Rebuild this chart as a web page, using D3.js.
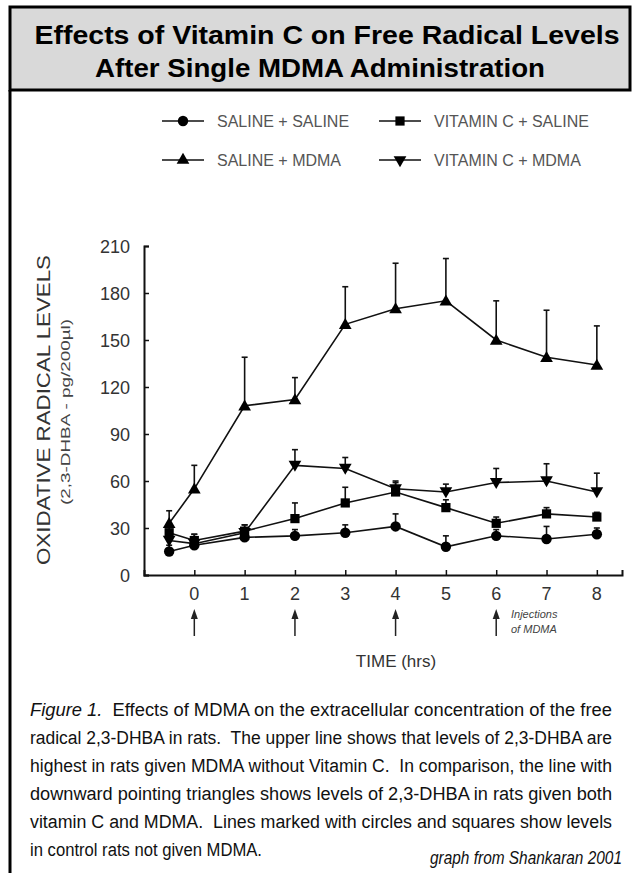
<!DOCTYPE html>
<html>
<head>
<meta charset="utf-8">
<script src="https://cdn.jsdelivr.net/npm/d3@7"></script>
<style>
  body { margin: 0; background: #fff; }
  svg { display: block; font-family: "Liberation Sans", Arial, sans-serif; }
</style>
</head>
<body>
<svg id="chart" width="632" height="873"></svg>
<script>
// time points (hrs); first point is the pre-injection baseline
const times = [-0.5, 0, 1, 2, 3, 4, 5, 6, 7, 8];
const xTicks = [0, 1, 2, 3, 4, 5, 6, 7, 8];
const yTicks = [0, 30, 60, 90, 120, 150, 180, 210];
const injections = [0, 2, 4, 6];

// 2,3-DHBA (pg/200ul), mean and upper error (SEM)
const salineSaline = [15, 19, 24, 25, 27, 31, 18, 25, 23, 26];
const salineSalineErr = [4, 5, 4, 4, 5, 8, 7, 4, 8, 4];
const vitCSaline = [27, 22, 28, 36, 46, 53, 43, 33, 39, 37];
const vitCSalineErr = [5, 4, 4, 10, 10, 6, 5, 4, 4, 3];
const salineMDMA = [33, 55, 108, 112, 160, 170, 175, 150, 139, 134];
const salineMDMAErr = [8, 15, 31, 14, 24, 29, 27, 25, 30, 25];
const vitCMDMA = [22, 20, 27, 70, 68, 55, 53, 59, 60, 53];
const vitCMDMAErr = [5, 6, 5, 10, 7, 5, 5, 9, 11, 12];

const seriesNames = ["SALINE + SALINE", "VITAMIN C + SALINE", "SALINE + MDMA", "VITAMIN C + MDMA"];

const captionLines = [
  ["Figure 1.", "  Effects of MDMA on the extracellular concentration of the free"],
  [null, "radical 2,3-DHBA in rats.  The upper line shows that levels of 2,3-DHBA are"],
  [null, "highest in rats given MDMA without Vitamin C.  In comparison, the line with"],
  [null, "downward pointing triangles shows levels of 2,3-DHBA in rats given both"],
  [null, "vitamin C and MDMA.  Lines marked with circles and squares show levels"],
  [null, "in control rats not given MDMA."]
];
const captionWidths = [582, 582, 582, 582, 582, 232];

const series = [
  { name: seriesNames[0], values: salineSaline, err: salineSaline.map((v, i) => v + salineSalineErr[i]), symbol: d3.symbolCircle, size: 85, rot: 0 },
  { name: seriesNames[1], values: vitCSaline, err: vitCSaline.map((v, i) => v + vitCSalineErr[i]), symbol: d3.symbolSquare, size: 85, rot: 0 },
  { name: seriesNames[2], values: salineMDMA, err: salineMDMA.map((v, i) => v + salineMDMAErr[i]), symbol: d3.symbolTriangle, size: 70, rot: 0 },
  { name: seriesNames[3], values: vitCMDMA, err: vitCMDMA.map((v, i) => v + vitCMDMAErr[i]), symbol: d3.symbolTriangle, size: 70, rot: 180 }
];

const svg = d3.select("#chart");

// header box
svg.append("rect")
  .attr("x", 10).attr("y", 7).attr("width", 620).attr("height", 83)
  .attr("fill", "#d9d9d9").attr("stroke", "#000").attr("stroke-width", 3);
svg.append("line")
  .attr("x1", 10).attr("x2", 10).attr("y1", 90).attr("y2", 873)
  .attr("stroke", "#000").attr("stroke-width", 3);

const title = svg.append("text")
  .attr("text-anchor", "middle")
  .attr("font-weight", "bold")
  .attr("font-size", 26)
  .attr("fill", "#000");
title.append("tspan").attr("x", 327).attr("y", 44)
  .attr("textLength", 585).attr("lengthAdjust", "spacingAndGlyphs")
  .text("Effects of Vitamin C on Free Radical Levels");
title.append("tspan").attr("x", 320).attr("y", 77)
  .attr("textLength", 450).attr("lengthAdjust", "spacingAndGlyphs")
  .text("After Single MDMA Administration");

// scales
const x = d3.scaleLinear().domain([-1, 8.5]).range([144, 622]);
const y = d3.scaleLinear().domain([0, 210]).range([575, 246]);

const g = svg.append("g");

// axes
const yAxis = g.append("g")
  .attr("transform", `translate(${x(-1)},0)`)
  .call(d3.axisRight(y).tickValues(yTicks).tickSize(5).tickFormat(""));
const xAxis = g.append("g")
  .attr("transform", `translate(0,${y(0)})`)
  .call(d3.axisTop(x).tickValues(xTicks).tickSize(5).tickFormat(""));
[yAxis, xAxis].forEach(a => {
  a.select(".domain").attr("stroke", "#111").attr("stroke-width", 2);
  a.selectAll(".tick line").attr("stroke", "#111").attr("stroke-width", 1.5);
});

g.selectAll(".ylab")
  .data(yTicks)
  .join("text")
  .attr("class", "ylab")
  .attr("x", 130)
  .attr("y", d => y(d) + 7)
  .attr("text-anchor", "end")
  .attr("font-size", 18)
  .attr("fill", "#333")
  .text(d => d);

g.selectAll(".xlab")
  .data(xTicks)
  .join("text")
  .attr("class", "xlab")
  .attr("x", d => x(d))
  .attr("y", 600)
  .attr("text-anchor", "middle")
  .attr("font-size", 18)
  .attr("fill", "#333")
  .text(d => d);

// axis titles
g.append("text")
  .attr("transform", "translate(50,410) rotate(-90)")
  .attr("text-anchor", "middle")
  .attr("font-size", 18)
  .attr("fill", "#333")
  .attr("textLength", 310)
  .attr("lengthAdjust", "spacingAndGlyphs")
  .text("OXIDATIVE RADICAL LEVELS");
g.append("text")
  .attr("transform", "translate(70,412) rotate(-90)")
  .attr("text-anchor", "middle")
  .attr("font-size", 13)
  .attr("fill", "#444")
  .attr("textLength", 186)
  .attr("lengthAdjust", "spacingAndGlyphs")
  .text("(2,3-DHBA - pg/200\u00b5l)");

g.append("text")
  .attr("x", 396).attr("y", 667)
  .attr("text-anchor", "middle")
  .attr("font-size", 17)
  .attr("fill", "#333")
  .text("TIME (hrs)");

// injection arrows
const arrows = g.selectAll(".arrow").data(injections).join("g").attr("class", "arrow");
arrows.append("line")
  .attr("x1", d => x(d)).attr("x2", d => x(d))
  .attr("y1", 617).attr("y2", 636)
  .attr("stroke", "#222").attr("stroke-width", 1.5);
arrows.append("path")
  .attr("d", d => `M${x(d)},609 L${x(d) - 3.5},619 L${x(d) + 3.5},619 Z`)
  .attr("fill", "#222");

const inj = g.append("text")
  .attr("font-size", 11)
  .attr("font-style", "italic")
  .attr("fill", "#444");
inj.append("tspan").attr("x", 511).attr("y", 618).text("Injections");
inj.append("tspan").attr("x", 511).attr("y", 633).text("of MDMA");

// error bars (upper only)
series.forEach(s => {
  const eb = g.append("g");
  times.forEach((t, i) => {
    eb.append("line")
      .attr("x1", x(t)).attr("x2", x(t))
      .attr("y1", y(s.values[i])).attr("y2", y(s.err[i]))
      .attr("stroke", "#111").attr("stroke-width", 1.6);
    eb.append("line")
      .attr("x1", x(t) - 3).attr("x2", x(t) + 3)
      .attr("y1", y(s.err[i])).attr("y2", y(s.err[i]))
      .attr("stroke", "#111").attr("stroke-width", 1.6);
  });
});

// lines
const line = d3.line().x((d, i) => x(times[i])).y(d => y(d));
series.forEach(s => {
  g.append("path")
    .datum(s.values)
    .attr("d", line)
    .attr("fill", "none")
    .attr("stroke", "#111")
    .attr("stroke-width", 1.6);
});

// markers
series.forEach(s => {
  g.append("g").selectAll("path")
    .data(s.values)
    .join("path")
    .attr("d", d3.symbol().type(s.symbol).size(s.size))
    .attr("transform", (d, i) => `translate(${x(times[i])},${y(d) + (s.symbol === d3.symbolTriangle ? (s.rot ? -1 : 1) : 0)}) rotate(${s.rot})`)
    .attr("fill", "#000");
});

// legend
const legendPos = [[183, 121], [400, 121], [183, 160], [400, 160]];
const legend = g.selectAll(".legend")
  .data(series)
  .join("g")
  .attr("class", "legend")
  .attr("transform", (d, i) => `translate(${legendPos[i][0]},${legendPos[i][1]})`);
legend.append("line")
  .attr("x1", -21).attr("x2", 21)
  .attr("stroke", "#111").attr("stroke-width", 1.6);
legend.append("path")
  .attr("d", d => d3.symbol().type(d.symbol).size(d.size)())
  .attr("transform", d => `rotate(${d.rot})`)
  .attr("fill", "#000");
legend.append("text")
  .attr("x", 34)
  .attr("y", 6)
  .attr("font-size", 16)
  .attr("fill", "#555")
  .text(d => d.name);

// caption: narrow face imitated with a horizontal squeeze
const squeeze = 0.86;
const cap = svg.append("g")
  .attr("font-family", "'Liberation Sans Narrow', 'Arial Narrow', 'Liberation Sans', sans-serif")
  .attr("font-size", 19)
  .attr("fill", "#111");
captionLines.forEach((ln, i) => {
  const t = cap.append("text")
    .attr("transform", `translate(30,${716 + i * 28}) scale(${squeeze},1)`)
    .attr("textLength", captionWidths[i] / squeeze)
    .attr("lengthAdjust", "spacingAndGlyphs")
    .style("white-space", "pre");
  if (ln[0]) t.append("tspan").attr("font-style", "italic").text(ln[0]);
  t.append("tspan").text(ln[1]);
});
cap.append("text")
  .attr("transform", `translate(430,864) scale(${squeeze},1)`)
  .attr("font-style", "italic")
  .attr("textLength", 192 / squeeze)
  .attr("lengthAdjust", "spacingAndGlyphs")
  .text("graph from Shankaran 2001");
</script>
</body>
</html>
